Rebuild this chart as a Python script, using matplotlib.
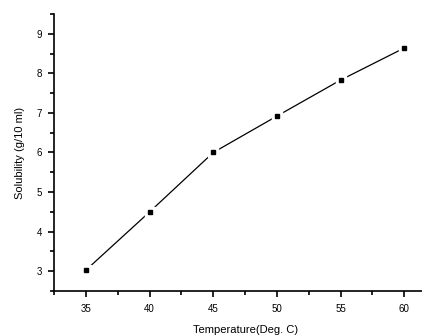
import matplotlib.pyplot as plt
from matplotlib.ticker import MultipleLocator

temperature = [35, 40, 45, 50, 55, 60]
solubility = [3.03, 4.5, 6.0, 6.92, 7.83, 8.64]

plt.rcParams['font.family'] = ['Liberation Sans', 'DejaVu Sans']

fig = plt.figure(figsize=(4.22, 3.35), dpi=100)
ax = fig.add_axes([54.2 / 422, 1 - 291 / 335, (436 - 54.2) / 422, (291 - 14) / 335])

ax.plot(temperature, solubility, color='black', lw=0.9, zorder=2)
# white halo around markers, like Origin's gap
ax.plot(temperature, solubility, ls='none', marker='s', ms=7,
        mfc='white', mec='white', zorder=3)
ax.plot(temperature, solubility, ls='none', marker='s', ms=3.3,
        mfc='black', mec='black', zorder=4)

ax.set_xlim(32.5, 62.5)
ax.set_ylim(2.5, 9.5)
ax.xaxis.set_major_locator(MultipleLocator(5))
ax.xaxis.set_minor_locator(MultipleLocator(2.5))
ax.yaxis.set_major_locator(MultipleLocator(1))
ax.yaxis.set_minor_locator(MultipleLocator(0.5))

for s in ['top', 'right']:
    ax.spines[s].set_visible(False)
for s in ['left', 'bottom']:
    ax.spines[s].set_linewidth(1.2)

ax.tick_params(which='major', direction='out', length=4, width=1.2, labelsize=7, pad=5)
ax.tick_params(which='minor', direction='out', length=3, width=1.2)

ax.set_xlabel('Temperature(Deg. C)', fontsize=8, labelpad=8)
ax.set_ylabel('Solubility (g/10 ml)', fontsize=8, labelpad=8)

fig.savefig('out.png', dpi=100)
